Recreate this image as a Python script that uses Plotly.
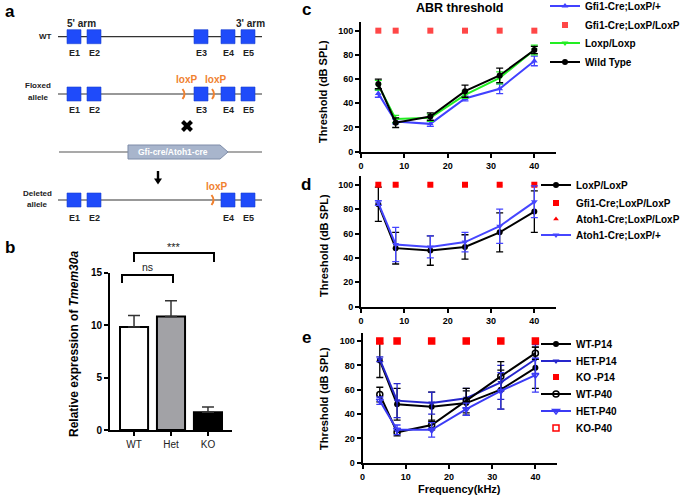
import plotly.graph_objects as go

W, H = 685, 496
FONT = "Liberation Sans, Arial, Helvetica, sans-serif"

# ---------------- data ----------------
freq = [4, 8, 16, 24, 32, 40]
freq_ticks = [0, 10, 20, 30, 40]

# panel b
b_groups = ["WT", "Het", "KO"]
b_values = [9.8, 10.8, 1.7]
b_errors = [1.1, 1.5, 0.5]
b_fills = ["#FFFFFF", "#A2A2A6", "#000000"]

# panel c
c_names = ["Gfi1-Cre;LoxP/+", "Gfi1-Cre;LoxP/LoxP", "Loxp/Loxp", "Wild Type"]
c_gfi_het = [48, 25, 23, 44, 52, 75]
c_gfi_het_err = [3, 2, 2, 2, 4, 4]
c_gfi_ko = [100, 100, 100, 100, 100, 100]
c_loxp = [55, 27, 28, 47, 61, 84]
c_loxp_err = [4, 3, 3, 3, 5, 4]
c_wt = [56, 24, 29, 50, 63, 84]
c_wt_err = [4, 4, 3, 5, 6, 3]

# panel d
d_names = ["LoxP/LoxP", "Gfi1-Cre;LoxP/LoxP", "Atoh1-Cre;LoxP/LoxP", "Atoh1-Cre;LoxP/+"]
d_loxp = [84, 48, 46, 49, 61, 78]
d_loxp_err = [14, 13, 12, 10, 16, 17]
d_gfi_ko = [100, 100, 100, 100, 100, 100]
d_atoh_ko = [100, 100, 100, 100, 100, 100]
d_atoh_het = [85, 51, 49, 53, 66, 86]
d_atoh_het_err = [2, 14, 9, 8, 14, 13]

# panel e
e_names = ["WT-P14", "HET-P14", "KO -P14", "WT-P40", "HET-P40", "KO-P40"]
e_wt_p14 = [84, 48, 46, 49, 60, 78]
e_wt_p14_err = [14, 13, 12, 10, 16, 17]
e_het_p14 = [85, 51, 49, 53, 66, 85]
e_het_p14_err = [2, 14, 9, 8, 14, 12]
e_ko_p14 = [100, 100, 100, 100, 100, 100]
e_wt_p40 = [56, 25, 31, 51, 71, 90]
e_wt_p40_err = [6, 3, 4, 10, 12, 5]
e_het_p40 = [51, 27, 27, 44, 59, 72]
e_het_p40_err = [3, 4, 6, 5, 15, 14]
e_ko_p40 = [100, 100, 100, 100, 100, 100]


def X(px):
    return px / W


def Y(py):
    return 1 - py / H


fig = go.Figure()

# ---------------- panel b ----------------
fig.add_trace(go.Bar(
    x=b_groups, y=b_values, width=0.76,
    marker=dict(color=b_fills, line=dict(color="#000000", width=2)),
    error_y=dict(type="data", symmetric=False, array=b_errors,
                 arrayminus=[0, 0, 0], color="#333333", thickness=1.5, width=6),
    showlegend=False, xaxis="x", yaxis="y",
))

# ---------------- legends bookkeeping ----------------
legends = {}
leg_count = [0]


def add_legend(text_left_px, center_py):
    leg_count[0] += 1
    n = leg_count[0]
    key = "legend" if n == 1 else "legend%d" % n
    legends[key] = dict(
        x=X(text_left_px - 40), y=Y(center_py), xanchor="left", yanchor="middle",
        bgcolor="rgba(0,0,0,0)", borderwidth=0, itemwidth=30,
        font=dict(family=FONT, size=10, color="#000000", weight="bold"),
    )
    return key


def line_trace(y, err, name, color, symbol, xa, ya, leg, msize=6, lw=2, mode="lines+markers",
               open_=False):
    mk = dict(symbol=symbol, size=msize, color=color)
    if open_:
        mk["line"] = dict(color=color, width=1.5)
    kw = dict(x=freq, y=y, name=name, mode=mode, marker=mk,
              xaxis=xa, yaxis=ya, legend=leg, cliponaxis=False)
    if mode != "markers":
        kw["line"] = dict(color=color, width=lw)
    if err is not None:
        kw["error_y"] = dict(type="data", array=err, color=color, thickness=1.3, width=3.5)
    fig.add_trace(go.Scatter(**kw))


# ---------------- panel c ----------------
c_leg_y = [6, 25, 43, 62]
BLUE_C = "#4141FF"
GREEN = "#22EE22"
RED_C = "#FF4747"
line_trace(c_gfi_het, c_gfi_het_err, c_names[0], BLUE_C, "triangle-up", "x2", "y2",
           add_legend(585, c_leg_y[0]))
line_trace(c_gfi_ko, None, c_names[1], RED_C, "square", "x2", "y2",
           add_legend(585, c_leg_y[1]), mode="markers")
line_trace(c_loxp, c_loxp_err, c_names[2], GREEN, "triangle-down", "x2", "y2",
           add_legend(585, c_leg_y[2]))
line_trace(c_wt, c_wt_err, c_names[3], "#000000", "circle", "x2", "y2",
           add_legend(585, c_leg_y[3]))

# ---------------- panel d ----------------
d_leg_y = [185, 203, 219, 235]
RED = "#FF0000"
BLUE_D = "#4646FF"
line_trace(d_loxp, d_loxp_err, d_names[0], "#000000", "circle", "x3", "y3",
           add_legend(576, d_leg_y[0]))
line_trace(d_gfi_ko, None, d_names[1], RED, "square", "x3", "y3",
           add_legend(576, d_leg_y[1]), mode="markers")
line_trace(d_atoh_ko, None, d_names[2], RED, "triangle-up", "x3", "y3",
           add_legend(576, d_leg_y[2]), mode="markers", msize=5)
line_trace(d_atoh_het, d_atoh_het_err, d_names[3], BLUE_D, "triangle-down", "x3", "y3",
           add_legend(576, d_leg_y[3]))

# ---------------- panel e ----------------
e_leg_y = [344, 361, 377, 394, 411, 428]
BLUE_E1 = "#2626CC"
BLUE_E2 = "#3B3BF5"
line_trace(e_wt_p14, e_wt_p14_err, e_names[0], "#000000", "circle", "x4", "y4",
           add_legend(576, e_leg_y[0]))
line_trace(e_het_p14, e_het_p14_err, e_names[1], BLUE_E1, "triangle-down", "x4", "y4",
           add_legend(576, e_leg_y[1]))
line_trace(e_ko_p14, None, e_names[2], RED, "square", "x4", "y4",
           add_legend(576, e_leg_y[2]), mode="markers")
line_trace(e_wt_p40, e_wt_p40_err, e_names[3], "#000000", "circle-open", "x4", "y4",
           add_legend(576, e_leg_y[3]), open_=True)
line_trace(e_het_p40, e_het_p40_err, e_names[4], BLUE_E2, "triangle-down-open", "x4", "y4",
           add_legend(576, e_leg_y[4]), open_=True)
line_trace(e_ko_p40, None, e_names[5], RED, "square-open", "x4", "y4",
           add_legend(576, e_leg_y[5]), mode="markers", open_=True)

# ---------------- axes ----------------
ax_common = dict(showgrid=False, zeroline=False, showline=True, linecolor="#000000",
                 linewidth=2, ticks="outside", ticklen=4, tickwidth=1.5, tickcolor="#000000",
                 tickfont=dict(family=FONT, size=9, color="#000000", weight="bold"))

xdom = [X(361), X(556)]
layout_axes = dict(
    xaxis=dict(ax_common, domain=[X(110), X(232)], anchor="y", range=[-0.65, 2.65],
               tickfont=dict(family=FONT, size=10, color="#222222")),
    yaxis=dict(ax_common, domain=[Y(430), Y(272.5)], anchor="x", range=[0, 15],
               tickvals=[0, 5, 10, 15],
               tickfont=dict(family=FONT, size=10, color="#000000", weight="bold")),
    xaxis2=dict(ax_common, domain=xdom, anchor="y2", range=[0, 45], tickvals=freq_ticks),
    yaxis2=dict(ax_common, domain=[Y(151.7), Y(22.2)], anchor="x2", range=[0, 107],
                tickvals=[0, 20, 40, 60, 80, 100]),
    xaxis3=dict(ax_common, domain=xdom, anchor="y3", range=[0, 45], tickvals=freq_ticks),
    yaxis3=dict(ax_common, domain=[Y(306.7), Y(176.2)], anchor="x3", range=[0, 107],
                tickvals=[0, 20, 40, 60, 80, 100]),
    xaxis4=dict(ax_common, domain=[X(362.5), X(557)], anchor="y4", range=[0, 45],
                tickvals=freq_ticks),
    yaxis4=dict(ax_common, domain=[Y(462.7), Y(332.5)], anchor="x4", range=[0, 107],
                tickvals=[0, 20, 40, 60, 80, 100]),
)

# ---------------- annotations ----------------
ann = []


def txt(px, py, s, size=10, color="#000000", bold=True, angle=0, xanchor="center"):
    ann.append(dict(x=X(px), y=Y(py), xref="paper", yref="paper", showarrow=False,
                    text=("<b>%s</b>" % s) if bold else s, textangle=angle,
                    xanchor=xanchor, yanchor="middle",
                    font=dict(family=FONT, size=size, color=color)))


# panel letters
txt(10, 12, "a", size=17)
txt(10, 247, "b", size=17)
txt(306, 10, "c", size=17)
txt(306, 184, "d", size=17)
txt(306, 337, "e", size=17)

# titles
txt(460, 8, "ABR threshold", size=12.5)
txt(323, 92, "Threshold (dB SPL)", size=11, angle=-90)
txt(324, 246, "Threshold (dB SPL)", size=11, angle=-90)
txt(324, 399, "Threshold (dB SPL)", size=11, angle=-90)
txt(459, 489, "Frequency(kHz)", size=11)
txt(74, 344, "Relative expression of <i>Tmem30a</i>", size=12, angle=-90)

# panel b significance
txt(147, 267, "ns", size=10.5, bold=False, color="#222222")
txt(174, 247, "***", size=11, bold=False, color="#222222")

# ---------------- panel a schematic ----------------
shapes = []
BOX = "#1F4BFA"
ORANGE = "#F0812F"
DARK = "#222222"


def hline(x0, x1, py, color="#333333", width=1.2):
    shapes.append(dict(type="line", xref="paper", yref="paper", x0=X(x0), x1=X(x1),
                       y0=Y(py), y1=Y(py), line=dict(color=color, width=width)))


def box(l, r, cy):
    shapes.append(dict(type="rect", xref="paper", yref="paper", x0=X(l), x1=X(r),
                       y0=Y(cy + 7), y1=Y(cy - 7), fillcolor=BOX,
                       line=dict(color="#1A3FD0", width=0.6)))


def loxp_mark(px, py):
    path = "M %f,%f Q %f,%f %f,%f" % (X(px - 1.5), Y(py - 5), X(px + 2.5), Y(py),
                                      X(px - 1.5), Y(py + 5))
    shapes.append(dict(type="path", xref="paper", yref="paper", path=path,
                       line=dict(color=ORANGE, width=2)))


exon_x = {"E1": (67, 81), "E2": (87, 101), "E3": (194, 208), "E4": (221, 235), "E5": (241, 255)}


def allele(py, exons, label_y):
    hline(58, 262, py)
    for e in exons:
        l, r = exon_x[e]
        box(l, r, py)
        txt((l + r) / 2, label_y, e, size=9, color=DARK)


# WT
allele(36.7, ["E1", "E2", "E3", "E4", "E5"], 53)
txt(81, 23, "5' arm", size=10, color=DARK)
txt(250, 23, "3' arm", size=10, color=DARK)
txt(45, 37, "WT", size=8, color=DARK)

# floxed
allele(94, ["E1", "E2", "E3", "E4", "E5"], 110)
txt(38, 85, "Floxed", size=8, color=DARK)
txt(38, 97, "allele", size=8, color=DARK)
txt(186, 80, "loxP", size=10, color=ORANGE)
txt(215, 80, "loxP", size=10, color=ORANGE)
loxp_mark(184, 94)
loxp_mark(213.5, 94)

# cross
for (a0, b0, a1, b1) in [(182.5, 121.5, 191.5, 130.5), (182.5, 130.5, 191.5, 121.5)]:
    shapes.append(dict(type="line", xref="paper", yref="paper", x0=X(a0), y0=Y(b0),
                       x1=X(a1), y1=Y(b1), line=dict(color="#000000", width=4)))

# cre transgene
hline(59, 262, 152, color="#555555")
pent = "M %f,%f L %f,%f L %f,%f L %f,%f L %f,%f Z" % (
    X(128), Y(145), X(220), Y(145), X(228), Y(152), X(220), Y(159), X(128), Y(159))
shapes.append(dict(type="path", xref="paper", yref="paper", path=pent,
                   fillcolor="#A8B5CC", line=dict(color="#7E8CA8", width=1)))
txt(173, 152.5, "Gfi-cre/Atoh1-cre", size=8.5, color="#FFFFFF")

# down arrow
shapes.append(dict(type="rect", xref="paper", yref="paper", x0=X(156.8), x1=X(159.2),
                   y0=Y(179), y1=Y(171), fillcolor="#000000", line=dict(width=0)))
tri = "M %f,%f L %f,%f L %f,%f Z" % (X(154), Y(178.5), X(162), Y(178.5), X(158), Y(184.5))
shapes.append(dict(type="path", xref="paper", yref="paper", path=tri,
                   fillcolor="#000000", line=dict(width=0)))

# deleted
allele(200, ["E1", "E2", "E4", "E5"], 218)
txt(37, 193, "Deleted", size=8, color=DARK)
txt(37, 204, "allele", size=8, color=DARK)
txt(216, 187, "loxP", size=10, color=ORANGE)
loxp_mark(213, 200)

# panel b brackets
for (l, r, top, leg) in [(122, 173, 275, 283), (134, 214, 253, 262)]:
    path = "M %f,%f L %f,%f L %f,%f L %f,%f" % (X(l), Y(leg), X(l), Y(top), X(r), Y(top),
                                                 X(r), Y(leg))
    shapes.append(dict(type="path", xref="paper", yref="paper", path=path,
                       line=dict(color="#000000", width=2)))

fig.update_layout(
    width=W, height=H, margin=dict(l=0, r=0, t=0, b=0, autoexpand=False),
    paper_bgcolor="#FFFFFF", plot_bgcolor="rgba(0,0,0,0)",
    font=dict(family=FONT, color="#000000"),
    annotations=ann, shapes=shapes, bargap=0.2, hovermode=False,
    **layout_axes, **legends,
)

fig.write_html("out.html", config={"displayModeBar": False},
               post_script="document.body.style.margin='0';document.body.style.overflow='hidden';")
